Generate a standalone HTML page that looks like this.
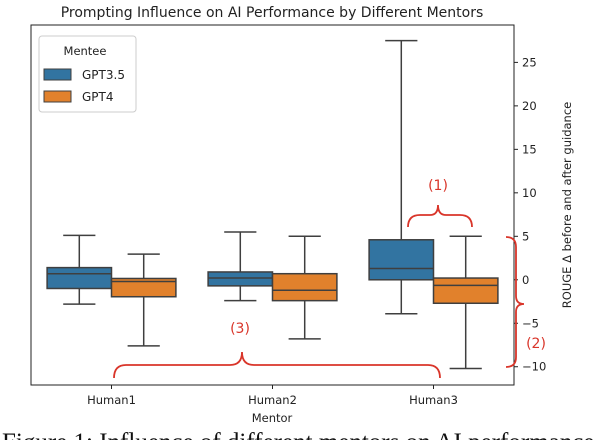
<!DOCTYPE html>
<html><head><meta charset="utf-8"><style>
body{margin:0;background:#fff;width:604px;height:440px;overflow:hidden}
svg{display:block;font-family:"DejaVu Sans","Liberation Sans",sans-serif}
</style></head><body>
<svg id="c" width="604" height="440">
<text x="272" y="17" font-size="14" text-anchor="middle" fill="#222">Prompting Influence on AI Performance by Different Mentors</text>
<g id="plot"></g>
<g>
<rect x="39" y="36" width="97" height="76" rx="3" fill="#fff" stroke="#ccc"/>
<text x="85" y="55" font-size="11.5" text-anchor="middle" fill="#222">Mentee</text>
<rect x="44" y="69" width="27" height="11" fill="#3274a1" stroke="#3f3f3f"/>
<text x="82" y="79" font-size="12" fill="#222">GPT3.5</text>
<rect x="44" y="91" width="27" height="11" fill="#e1812c" stroke="#3f3f3f"/>
<text x="82" y="101" font-size="12" fill="#222">GPT4</text>
</g>
<g fill="none" stroke="#d9352a" stroke-width="1.8">
<path d="M408 227 Q408 215 420 215 L430 215 Q438 215 438 205 Q438 215 446 215 L460 215 Q472 215 472 227"/>
<path d="M506 237 Q516 237 516 247 L516 296 Q516 304 524 304 Q516 304 516 312 L516 357 Q516 367 506 367"/>
<path d="M114 378 Q114 365 126 365 L230 365 Q242 365 242 352 Q242 365 254 365 L428 365 Q440 365 440 378"/>
</g>
<text x="438" y="190" font-size="14" fill="#d9352a" text-anchor="middle">(1)</text>
<text x="536" y="348" font-size="14" fill="#d9352a" text-anchor="middle">(2)</text>
<text x="240" y="333" font-size="14" fill="#d9352a" text-anchor="middle">(3)</text>
<text x="272" y="422" font-size="11.5" text-anchor="middle" fill="#222">Mentor</text>
<text transform="translate(571,205) rotate(-90)" font-size="11.5" text-anchor="middle" fill="#222">ROUGE Δ before and after guidance</text>
<text x="2" y="450" font-size="25" font-family="Liberation Serif,serif" fill="#111">Figure 1: Influence of different mentors on AI performance</text>
</svg>
<script>
const categories=["Human1","Human2","Human3"];
const series=["GPT3.5","GPT4"];
const gpt35Low=[-2.8,-2.4,-3.9];
const gpt35Q1=[-1.0,-0.7,0.0];
const gpt35Med=[0.7,0.2,1.3];
const gpt35Q3=[1.4,0.9,4.6];
const gpt35High=[5.1,5.5,27.5];
const gpt4Low=[-7.6,-6.8,-10.2];
const gpt4Q1=[-1.95,-2.4,-2.7];
const gpt4Med=[-0.2,-1.2,-0.65];
const gpt4Q3=[0.15,0.7,0.2];
const gpt4High=[2.95,5.0,5.0];
const yTicks=[-10,-5,0,5,10,15,20,25];
const colors=["#3274a1","#e1812c"];
const L=31,R=514,T=25,B=385,ymin=-12.1,ymax=29.3;
const y=v=>B-(v-ymin)/(ymax-ymin)*(B-T);
const bw=(R-L)/categories.length;
const x=i=>L+bw*(i+0.5);
const ns="http://www.w3.org/2000/svg";
const g=document.getElementById('plot');
function mk(t,a){const e=document.createElementNS(ns,t);for(const k in a)e.setAttribute(k,a[k]);g.appendChild(e);return e;}
const data=[[gpt35Low,gpt35Q1,gpt35Med,gpt35Q3,gpt35High],[gpt4Low,gpt4Q1,gpt4Med,gpt4Q3,gpt4High]];
categories.forEach((c,i)=>{
  series.forEach((s,j)=>{
    const d=data[j];const w=bw*0.4;const x0=x(i)-bw*0.4+j*w;const cx=x0+w/2;
    const wl=mk('line',{x1:cx,x2:cx,y1:y(d[4][i]),y2:y(d[0][i]),stroke:'#3f3f3f','stroke-width':1.5});
    
    
    [0,4].forEach(k=>{const cap=mk('line',{x1:cx-w/4,x2:cx+w/4,y1:y(d[k][i]),y2:y(d[k][i]),stroke:'#3f3f3f','stroke-width':1.5});
      
      });
    const b=mk('rect',{x:x0,y:y(d[3][i]),width:w,height:y(d[1][i])-y(d[3][i]),fill:colors[j],stroke:'#3f3f3f','stroke-width':1.5});
    
    
    const m=mk('line',{x1:x0,x2:x0+w,y1:y(d[2][i]),y2:y(d[2][i]),stroke:'#3f3f3f','stroke-width':1.5});
    
    
  });
  const tk=mk('line',{x1:x(i),x2:x(i),y1:B,y2:B+4,stroke:'#222'});
  
  
  const tl=mk('text',{x:x(i),y:B+19,'font-size':11.5,'text-anchor':'middle',fill:'#222'});tl.textContent=c;
  
  
});
yTicks.forEach(v=>{
  const tk=mk('line',{x1:R,x2:R+4,y1:y(v),y2:y(v),stroke:'#222'});
  
  
  const tl=mk('text',{x:R+8,y:y(v)+4,'font-size':11.5,fill:'#222'});tl.textContent=v<0?'\u2212'+(-v):v;
  
  
});
const fr=mk('rect',{x:L,y:T,width:R-L,height:B-T,fill:'none',stroke:'#222','stroke-width':1});


</script>
</body></html>
